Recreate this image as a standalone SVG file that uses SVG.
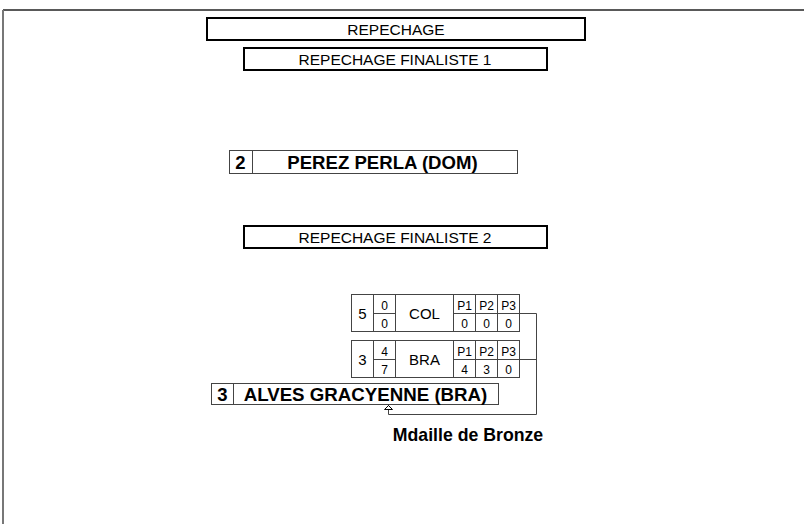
<svg xmlns="http://www.w3.org/2000/svg" width="804" height="524" viewBox="0 0 804 524">
<style>
.t{font-family:"Liberation Sans",Arial,sans-serif;fill:#000}
.hdr{fill:#fff;stroke:#000;stroke-width:2}
.box{fill:#fff;stroke:#444;stroke-width:1}
.ln{fill:none;stroke:#444;stroke-width:1}
.b{font-weight:bold}
.s{font-size:12px}
.m{font-size:15px}
</style>
<rect width="804" height="524" fill="#fff"/>
<g id="frame">
<line x1="3" y1="10" x2="804" y2="10" stroke="#222" stroke-width="1.5"/>
<line x1="3" y1="10" x2="3" y2="524" stroke="#777" stroke-width="2"/>
</g>
<g id="repechage">
<rect class="hdr" x="207" y="18" width="378" height="22"/>
<text class="t" x="396" y="35" font-size="15.5" text-anchor="middle">REPECHAGE</text>
</g>
<g id="finaliste1">
<rect class="hdr" x="244" y="48" width="303" height="22"/>
<text class="t" x="395" y="65" font-size="15.5" text-anchor="middle">REPECHAGE FINALISTE 1</text>
</g>
<g id="perez">
<rect class="box" x="229.5" y="150.5" width="288" height="23"/>
<line class="ln" x1="252.5" y1="150.5" x2="252.5" y2="173.5"/>
<text class="t b" x="240.5" y="168.5" font-size="18.5" text-anchor="middle">2</text>
<text class="t b" x="382.5" y="168.5" font-size="18.6" text-anchor="middle">PEREZ PERLA (DOM)</text>
</g>
<g id="finaliste2">
<rect class="hdr" x="244" y="226" width="303" height="22"/>
<text class="t" x="395" y="243" font-size="15.5" text-anchor="middle">REPECHAGE FINALISTE 2</text>
</g>
<g id="match-col">
<rect class="box" x="351.5" y="294.5" width="168" height="37"/>
<line class="ln" x1="373.5" y1="294.5" x2="373.5" y2="331.5"/>
<line class="ln" x1="395.5" y1="294.5" x2="395.5" y2="331.5"/>
<line class="ln" x1="453.5" y1="294.5" x2="453.5" y2="331.5"/>
<line class="ln" x1="475.5" y1="294.5" x2="475.5" y2="331.5"/>
<line class="ln" x1="497.5" y1="294.5" x2="497.5" y2="331.5"/>
<line class="ln" x1="373.5" y1="313.5" x2="395.5" y2="313.5"/>
<line class="ln" x1="453.5" y1="313.5" x2="519.5" y2="313.5"/>
<text class="t m" x="362.5" y="318.5" font-size="16" text-anchor="middle">5</text>
<text class="t s" x="384.5" y="309.5" text-anchor="middle">0</text>
<text class="t s" x="384.5" y="327.5" text-anchor="middle">0</text>
<text class="t m" x="424.5" y="318.5" text-anchor="middle">COL</text>
<text class="t s" x="464.5" y="309.5" text-anchor="middle">P1</text>
<text class="t s" x="486.5" y="309.5" text-anchor="middle">P2</text>
<text class="t s" x="508.5" y="309.5" text-anchor="middle">P3</text>
<text class="t s" x="464.5" y="327.5" text-anchor="middle">0</text>
<text class="t s" x="486.5" y="327.5" text-anchor="middle">0</text>
<text class="t s" x="508.5" y="327.5" text-anchor="middle">0</text>
</g>
<g id="match-bra">
<rect class="box" x="351.5" y="340.5" width="168" height="37"/>
<line class="ln" x1="373.5" y1="340.5" x2="373.5" y2="377.5"/>
<line class="ln" x1="395.5" y1="340.5" x2="395.5" y2="377.5"/>
<line class="ln" x1="453.5" y1="340.5" x2="453.5" y2="377.5"/>
<line class="ln" x1="475.5" y1="340.5" x2="475.5" y2="377.5"/>
<line class="ln" x1="497.5" y1="340.5" x2="497.5" y2="377.5"/>
<line class="ln" x1="373.5" y1="359.5" x2="395.5" y2="359.5"/>
<line class="ln" x1="453.5" y1="359.5" x2="519.5" y2="359.5"/>
<text class="t m" x="362.5" y="364.5" font-size="16" text-anchor="middle">3</text>
<text class="t s" x="384.5" y="355.5" text-anchor="middle">4</text>
<text class="t s" x="384.5" y="373.5" text-anchor="middle">7</text>
<text class="t m" x="424.5" y="364.5" text-anchor="middle">BRA</text>
<text class="t s" x="464.5" y="355.5" text-anchor="middle">P1</text>
<text class="t s" x="486.5" y="355.5" text-anchor="middle">P2</text>
<text class="t s" x="508.5" y="355.5" text-anchor="middle">P3</text>
<text class="t s" x="464.5" y="373.5" text-anchor="middle">4</text>
<text class="t s" x="486.5" y="373.5" text-anchor="middle">3</text>
<text class="t s" x="508.5" y="373.5" text-anchor="middle">0</text>
</g>
<g id="alves">
<rect class="box" x="211.5" y="383.5" width="287" height="21"/>
<line class="ln" x1="233.5" y1="383.5" x2="233.5" y2="404.5"/>
<text class="t b" x="222.5" y="400.5" font-size="18.5" text-anchor="middle">3</text>
<text class="t b" x="365.5" y="400.5" font-size="18.7" text-anchor="middle">ALVES GRACYENNE (BRA)</text>
</g>
<g id="connectors">
<polyline class="ln" points="519.5,313.5 536.5,313.5 536.5,414.5 388.5,414.5 388.5,405"/>
<line class="ln" x1="519.5" y1="359.5" x2="536.5" y2="359.5"/>
<path d="M384.5,409.5 L388.5,405.5 L392.5,409.5 Z" fill="#fff" stroke="#000" stroke-width="1"/>
</g>
<g id="medal">
<text class="t b" x="468" y="441" font-size="17.7" text-anchor="middle">Mdaille de Bronze</text>
</g>
</svg>
